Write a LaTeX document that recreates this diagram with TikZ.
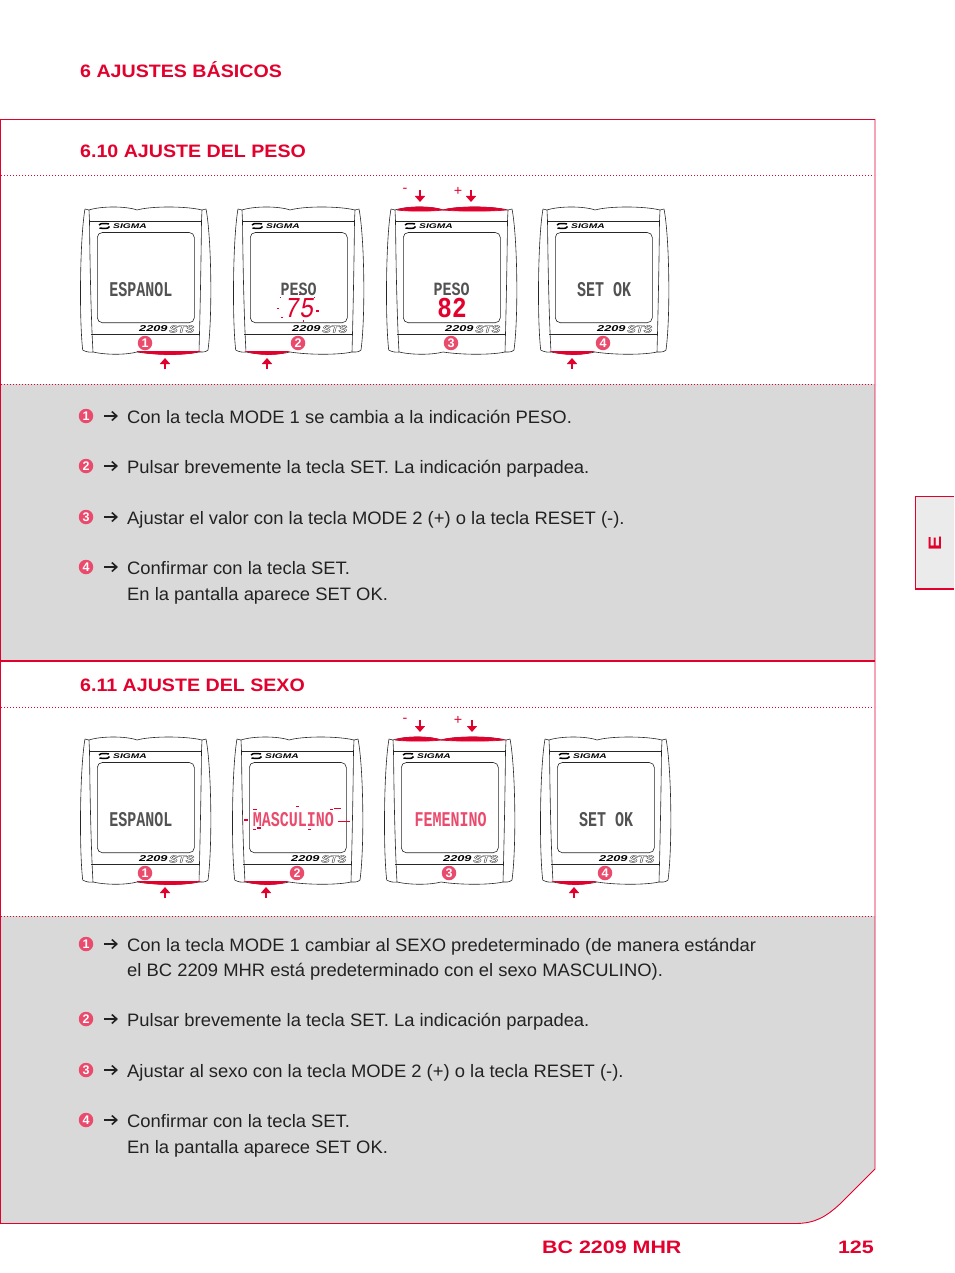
\documentclass[tikz,border=0pt]{standalone}
\usepackage{fontspec}
\setmainfont[FakeStretch=1.022]{Liberation Sans}
\newfontfamily\lcdfont{Liberation Mono}
\newfontfamily\headfont[FakeStretch=1.09]{Liberation Sans}
\newfontfamily\footfont[FakeStretch=1.19]{Liberation Sans}
\newfontfamily\plainfont{Liberation Sans}
\usetikzlibrary{arrows.meta}
\definecolor{bcred}{HTML}{E2002D}
\definecolor{bcpink}{HTML}{EA4A6C}
\definecolor{panelgrey}{HTML}{D9D9D9}
\definecolor{tabgrey}{HTML}{EBEBEB}
\definecolor{ink}{HTML}{222222}
\tikzset{
  heading/.style={anchor=base west,inner sep=0pt,text=bcred,font=\fontsize{18}{20}\selectfont\headfont\bfseries},
  footing/.style={anchor=base west,inner sep=0pt,text=bcred,font=\fontsize{18}{20}\selectfont\footfont\bfseries},
  body/.style={anchor=base west,inner sep=0pt,text=ink,font=\fontsize{18}{20}\selectfont},
  rule/.style={bcred,line width=0.9pt},
  dotrule/.style={bcred,line width=1pt,dash pattern=on 1pt off 2pt},
  outline/.style={draw=black!85,line width=0.6pt},
  numdot/.style={circle,fill=bcpink,minimum size=14.5pt,inner sep=0pt,text=white,font=\fontsize{12.5}{13}\selectfont\plainfont\bfseries},
  pressed/.style={fill=bcred,draw=bcred,line width=0.7pt},
  pusharrow/.style={bcred,line width=2.2pt,-{Triangle[length=6pt,width=10pt]}},
  listarrow/.style={ink,line width=1.6pt,-{Straight Barb[length=5pt,width=9pt]}},
  lcd/.style={inner sep=0pt,text=black!68},
  lcdred/.style={inner sep=0pt,text=bcpink},
  frag/.style={fill=bcred,draw=none}
}
\newcommand{\lcdtext}[3]{\scalebox{#2}[#3]{\lcdfont\bfseries\fontsize{15}{15}\selectfont #1}}
\newcommand{\device}[3]{%
  \begin{scope}[shift={(#1,#2)}]
    \draw[outline] (4,2) .. controls (-1,30) and (-2,110) .. (1.7,143) .. controls (5,145) and (9,145.5) .. (12,145);
    \draw[outline] (125,2) .. controls (130.5,30) and (131.5,110) .. (127,143) .. controls (125,145) and (121,145.5) .. (118,145);
    \draw[outline] (4,2) -- (8,3) .. controls (20,-1) and (45,-1) .. (56,3) .. controls (70,-1) and (105,-1) .. (121,3) -- (125,2);
    \draw[outline] (8,3) -- (8.5,14) .. controls (9,60) and (10,110) .. (12,145) .. controls (25,148) and (45,148) .. (56,145) .. controls (75,148) and (105,148) .. (118,145);
    \draw[outline] (121,3) -- (120.5,14) .. controls (120,60) and (119,110) .. (118,145);
    \draw[outline] (8.5,14) -- (120.5,14);
    \draw[outline] (10,127) -- (119,127);
    \draw[outline,rounded corners=5pt] (16.3,25.5) rectangle (113.3,115.7);
    \draw[black,line width=1.5pt] (18,18) .. controls (20,15.5) and (25,17) .. (28,16.8);
    \draw[black,line width=1.5pt] (18.5,21) .. controls (22,21.3) and (27,22.5) .. (28.5,19.5);
    \node[inner sep=0pt,anchor=west] at (32,19) {\scalebox{1.5}[1]{\fontsize{6.8}{7}\selectfont\plainfont\bfseries\itshape SIGMA}};
    \node[inner sep=0pt,anchor=west] at (58,122) {\scalebox{1.5}[1]{\fontsize{8.5}{8.5}\selectfont\plainfont\bfseries\itshape 2209}};
    \node[inner sep=0pt,anchor=west,text=black!85] at (88,122) {\scalebox{1.35}[1.05]{\fontsize{9.5}{9.5}\selectfont\plainfont\bfseries\itshape\special{pdf:code 1 Tr 0.3 w}STS\special{pdf:code 0 Tr}}};
    \node[numdot] at (64,136) {#3};
  \end{scope}}
\newcommand{\redTL}{\path[pressed] (10,3) .. controls (20,-1) and (45,-1) .. (56,3) .. controls (45,4.5) and (20,4.5) .. (10,3);}
\newcommand{\redTR}{\path[pressed] (56,3) .. controls (70,-1) and (105,-1) .. (119,3) .. controls (105,4.5) and (70,4.5) .. (56,3);}
\newcommand{\redBL}{\path[pressed] (13,144.5) .. controls (25,148.5) and (45,148.5) .. (54,144.5) -- cycle;}
\newcommand{\redBR}{\path[pressed] (56,144.5) .. controls (75,148.5) and (105,148.5) .. (118,144.5) -- cycle;}
\begin{document}
\begin{tikzpicture}[x=1pt,y=-1pt]
\useasboundingbox (0,0) rectangle (954,1273);
\fill[panelgrey] (0.5,384) rectangle (875,660);
\fill[panelgrey] (0.5,916) -- (875,916) -- (875,1169) -- (841,1203) .. controls (826,1217) and (815,1223.5) .. (795,1223.5) -- (0.5,1223.5) -- cycle;
\draw[rule] (0.5,1223.5) -- (0.5,119.5) -- (875,119.5) -- (875,1169) -- (841,1203) .. controls (826,1217) and (815,1223.5) .. (795,1223.5) -- cycle;
\draw[bcred,line width=2pt] (0.5,660.5) -- (875,660.5);
\foreach \yy in {176,384,707,916} \draw[dotrule] (1,\yy) -- (874,\yy);
\fill[tabgrey] (915,497) rectangle (954,589);
\draw[bcred,line width=1.6pt] (954,496.5) -- (915.3,496.5) -- (915.3,589) -- (954,589);
\node[inner sep=0pt,text=bcred,rotate=90,font=\fontsize{18}{18}\selectfont\footfont\bfseries] (tabE) at (935,543) {E};
\node[heading] (h0) at (80,78) {6 AJUSTES BÁSICOS};
\node[heading] (h1) at (80,158) {6.10 AJUSTE DEL PESO};
\node[heading] (h2) at (80,691.5) {6.11 AJUSTE DEL SEXO};
\node[footing] (foot) at (542,1253) {BC 2209 MHR};
\node[footing,anchor=base east] (page) at (874,1253) {125};
\device{81}{207}{1}\begin{scope}[shift={(81,207)}]\redBR\end{scope}
\device{234}{207}{2}\begin{scope}[shift={(234,207)}]\redBL\end{scope}
\device{387}{207}{3}\begin{scope}[shift={(387,207)}]\redTL\redTR\end{scope}
\device{539}{207}{4}\begin{scope}[shift={(539,207)}]\redBL\end{scope}
\node[lcd] (a1) at (141,290) {\lcdtext{ESPANOL}{1}{1.4}};
\node[lcd] (a2) at (298.5,289.5) {\lcdtext{PESO}{1}{1.25}};
\node[lcdred,text=bcred] (a2b) at (300,308) {\scalebox{1.35}[1.6]{\lcdfont\fontsize{18}{18}\selectfont\itshape 75}};
\node[lcd] (a3) at (451.5,289.5) {\lcdtext{PESO}{1}{1.25}};
\node[lcdred,text=bcred] (a3b) at (452,308) {\scalebox{1.35}[1.6]{\lcdfont\fontsize{18}{18}\selectfont\bfseries 82}};
\node[lcd] (a4) at (604,290) {\lcdtext{SET OK}{1}{1.4}};
\foreach \fx/\fy/\fw/\fh in {280/297/1/1,299/294/2/1,314/297/1/1,277/308/2/1,316/310/3/1.5,281/317/2/1,303/320/1/2}
  \fill[frag] (\fx,\fy) rectangle ++(\fw,\fh);
\device{81}{737}{1}\begin{scope}[shift={(81,737)}]\redBR\end{scope}
\device{233}{737}{2}\begin{scope}[shift={(233,737)}]\redBL\end{scope}
\device{385}{737}{3}\begin{scope}[shift={(385,737)}]\redTL\redTR\end{scope}
\device{541}{737}{4}\begin{scope}[shift={(541,737)}]\redBL\end{scope}
\node[lcd] (b1) at (141,820) {\lcdtext{ESPANOL}{1}{1.4}};
\node[lcdred] (b2) at (293.5,820) {\lcdtext{MASCULINO}{1}{1.4}};
\node[lcdred] (b3) at (450.5,820) {\lcdtext{FEMENINO}{1}{1.4}};
\node[lcd] (b4) at (606,820) {\lcdtext{SET OK}{1}{1.4}};
\foreach \fx/\fy/\fw/\fh in {253/809/4/1,296/806/3/1,330/809/3/1,334/808/7/1,244/819/4/2,338/821/12/1,253/829/3/1,257/827/4/2,308/829/3/1}
  \fill[frag] (\fx,\fy) rectangle ++(\fw,\fh);
\foreach \nm/\xa/\ya/\xb/\yb in {p1/165/369/165/358,p2/267/369/267/358,p4/572/369/572/358,q1/165/898/165/887,q2/266/898/266/887,q4/574/898/574/887,p3a/420/190/420/202,p3b/471/190/471/202,q3a/420/720/420/732,q3b/472/720/472/732}{
  \coordinate (\nm s) at (\xa,\ya); \coordinate (\nm e) at (\xb,\yb);
  \draw[pusharrow] (\nm s) -- (\nm e);}
\foreach \nm/\sym/\xa/\ya/\sz in {m1/-/405/190/14,pl1/+/458/191/14,m2/-/405/720/14,pl2/+/458/720/14}
  \node[inner sep=0pt,text=bcred,font=\fontsize{\sz}{\sz}\selectfont] (\nm) at (\xa,\ya) {\sym};
\foreach \nm/\n/\yy in {l1/1/416,l2/2/466,l3/3/517,l4/4/567,k1/1/944,k2/2/1019,k3/3/1070,k4/4/1120}{
  \node[numdot] (\nm) at (86,\yy) {\n};
  \coordinate (\nm a) at (104,\yy); \coordinate (\nm b) at (118,\yy);
  \draw[listarrow] (\nm a) -- (\nm b);}
\node[body] (t1) at (127,423) {Con la tecla MODE 1 se cambia a la indicación PESO.};
\node[body] (t2) at (127,473) {Pulsar brevemente la tecla SET. La indicación parpadea.};
\node[body] (t3) at (127,524) {Ajustar el valor con la tecla MODE 2 (+) o la tecla RESET (-).};
\node[body] (t4) at (127,574) {Confirmar con la tecla SET.};
\node[body] (t5) at (127,600) {En la pantalla aparece SET OK.};
\node[body] (u1) at (127,951) {Con la tecla MODE 1 cambiar al SEXO predeterminado (de manera estándar};
\node[body] (u1b) at (127,976) {el BC 2209 MHR está predeterminado con el sexo MASCULINO).};
\node[body] (u2) at (127,1026) {Pulsar brevemente la tecla SET. La indicación parpadea.};
\node[body] (u3) at (127,1077) {Ajustar al sexo con la tecla MODE 2 (+) o la tecla RESET (-).};
\node[body] (u4) at (127,1127) {Confirmar con la tecla SET.};
\node[body] (u5) at (127,1153) {En la pantalla aparece SET OK.};
\end{tikzpicture}
\end{document}
